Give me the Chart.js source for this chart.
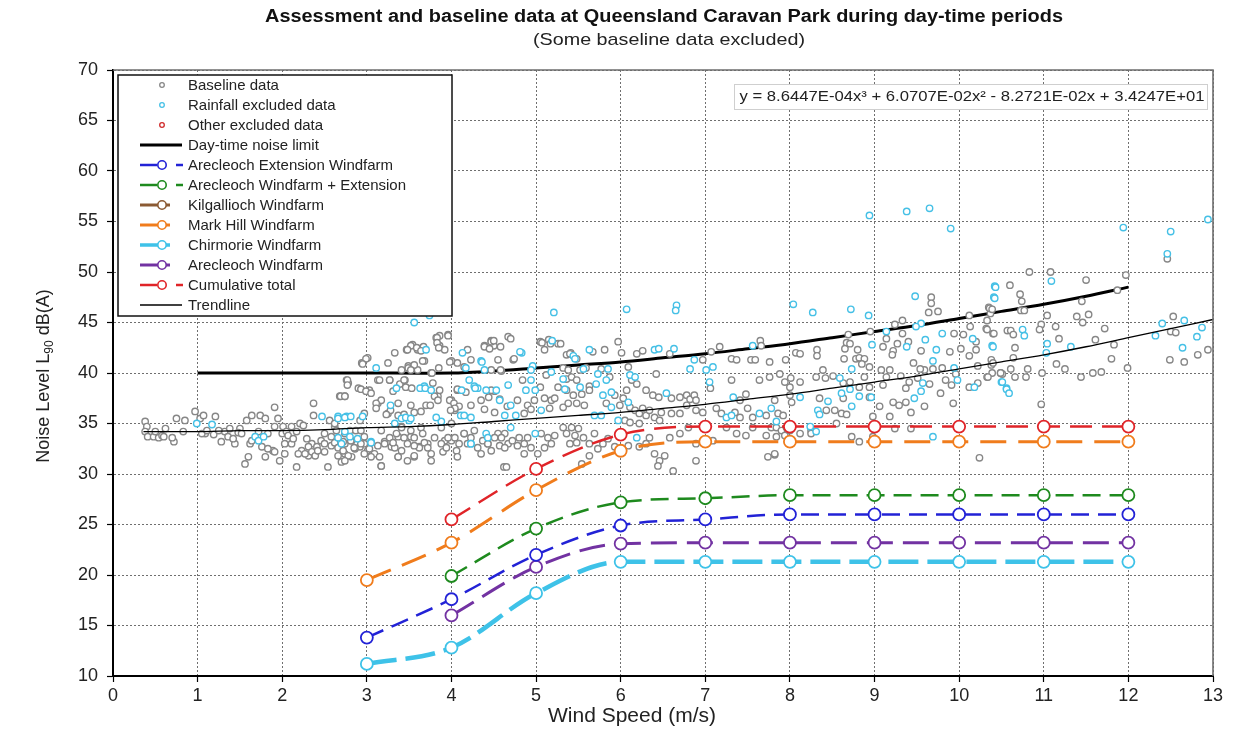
<!DOCTYPE html>
<html>
<head>
<meta charset="utf-8">
<script src="https://cdn.jsdelivr.net/npm/chart.js@4.4.0/dist/chart.umd.min.js"></script>
<style>
  html, body { margin: 0; padding: 0; background: #ffffff; }
  canvas { display: block; }
</style>
</head>
<body>
<canvas id="noiseChart" width="1250" height="732"></canvas>
<script>
// ---- Text ----
const chartTitle = 'Assessment and baseline data at Queensland Caravan Park during day-time periods';
const chartSubtitle = '(Some baseline data excluded)';
const xAxisTitle = 'Wind Speed (m/s)';
const yAxisTitleParts = ['Noise Level L', '90', ' dB(A)'];
const equationText = 'y = 8.6447E-04x\u00B3 + 6.0707E-02x\u00B2 - 8.2721E-02x + 3.4247E+01';

// ---- Axis ranges ----
const windSpeedTicks = { min: 0, max: 13, step: 1 };
const noiseLevelTicks = { min: 10, max: 70, step: 5 };

// ---- Predicted wind farm levels at each integer wind speed (m/s) ----
const windSpeeds = [3, 4, 5, 6, 7, 8, 9, 10, 11, 12];
const arecleochExtension     = [13.8, 17.6, 22.0, 24.9, 25.5, 26.0, 26.0, 26.0, 26.0, 26.0];
const arecleochPlusExtension = [null, 19.9, 24.6, 27.2, 27.6, 27.9, 27.9, 27.9, 27.9, 27.9];
const kilgallioch            = [null, null, null, null, null, null, null, null, null, null];
const markHill               = [19.5, 23.2, 28.4, 32.3, 33.2, 33.2, 33.2, 33.2, 33.2, 33.2];
const chirmorie              = [11.2, 12.8, 18.2, 21.3, 21.3, 21.3, 21.3, 21.3, 21.3, 21.3];
const arecleoch              = [null, 16.0, 20.8, 23.1, 23.2, 23.2, 23.2, 23.2, 23.2, 23.2];
const cumulativeTotal        = [null, 25.5, 30.5, 33.9, 34.7, 34.7, 34.7, 34.7, 34.7, 34.7];

// ---- Day-time limit and fitted trendline [wind speed, dB] ----
const noiseLimit = [[1,40.0],[2,40.0],[3,40.0],[4,40.0],[4.5,40.2],[5,40.5],[5.5,40.8],[6,41.1],[6.5,41.5],[7,41.9],[7.5,42.4],[8,42.9],[8.5,43.5],[9,44.1],[9.5,44.7],[10,45.4],[10.5,46.1],[11,46.8],[11.5,47.6],[12,48.5]];
const trendline = [[0.36,34.2],[1,34.2],[1.5,34.3],[2,34.3],[2.5,34.4],[3,34.6],[3.5,34.7],[4,34.9],[4.5,35.2],[5,35.5],[5.5,35.8],[6,36.1],[6.5,36.5],[7,36.9],[7.5,37.4],[8,37.9],[8.5,38.5],[9,39.1],[9.5,39.7],[10,40.4],[10.5,41.1],[11,41.8],[11.5,42.6],[12,43.5],[12.5,44.4],[13,45.3]];

// ---- Measured background levels [wind speed, dB] ----
const baselineData = [
  [0.38,35.2],[0.40,34.7],[0.38,34.2],[0.41,33.7],[0.48,33.7],[0.54,33.6],[0.58,33.8],[0.62,34.5],[0.60,33.7],[0.72,33.2],[0.70,33.6],[0.75,35.5],[0.83,34.2],[0.85,35.3],[0.97,36.2],[1.03,35.5],[1.07,35.8],[1.09,34.0],[1.21,35.7],[1.19,33.9],[1.28,33.2],[1.32,34.2],[1.36,33.7],[1.44,33.0],[1.42,33.5],[1.50,34.5],[1.48,34.1],[1.58,35.3],[1.60,31.7],[1.56,31.0],[1.62,33.0],[1.64,35.8],[1.74,35.8],[1.80,35.5],[1.83,34.0],[1.89,32.3],[1.91,36.6],[1.91,32.2],[1.95,35.5],[1.97,31.3],
  [0.50,34.2],[1.05,34.0],[1.11,34.3],[1.25,34.3],[1.38,34.5],[1.52,34.0],[1.64,33.3],[1.76,32.7],[1.83,32.5],[1.72,34.2],[1.91,34.7],[2.00,34.0],[2.11,34.7],[2.17,34.2],[2.23,32.3],[2.31,31.8],[2.35,33.0],[2.41,32.7],[2.50,34.0],[2.58,33.7],[2.50,32.2],[2.66,31.8],[2.74,32.0],[2.74,33.0],[2.82,33.3],[2.92,32.7],[2.97,33.7],[2.11,33.0],[2.29,33.5],[1.80,31.7],[2.03,32.0],
  [2.01,34.7],[2.03,33.0],[2.05,34.2],[2.07,33.8],[2.13,33.5],[2.17,30.7],[2.19,32.0],[2.21,35.0],[2.25,34.8],[2.27,32.0],[2.31,32.7],[2.35,32.2],[2.37,37.0],[2.37,35.8],[2.39,31.8],[2.42,32.3],[2.46,33.3],[2.50,33.0],[2.54,30.7],[2.56,35.3],[2.58,32.8],[2.62,34.7],[2.68,37.7],[2.70,31.2],[2.72,33.2],[2.74,37.7],[2.76,39.3],[2.78,39.0],[2.82,31.7],[2.86,32.5],[2.90,38.5],[2.92,35.3],[2.94,41.0],[2.97,36.0],[2.97,33.0],
  [3.01,32.3],[3.01,41.5],[3.03,38.3],[3.07,32.0],[3.13,37.0],[3.13,39.3],[3.17,30.8],[3.21,33.2],[3.25,36.0],[3.27,39.3],[3.29,32.7],[3.31,38.2],[3.37,33.7],[3.37,31.7],[3.41,34.7],[3.45,39.3],[3.47,42.3],[3.49,40.7],[3.52,33.7],[3.54,42.8],[3.56,31.7],[3.60,42.3],[3.62,32.7],[3.66,42.5],[3.68,41.2],[3.72,33.0],[3.76,40.0],[3.78,39.0],[3.82,43.5],[3.84,37.7],[3.86,43.7],[3.86,42.7],[3.92,33.3],[3.96,43.8],
  [3.25,41.0],[3.41,40.3],[3.33,42.0],[3.60,40.3],[3.92,42.3],[4.07,41.0],[4.23,41.3],[4.50,42.7],[4.55,41.3],[4.47,40.3],
  [4.78,37.3],[4.90,36.8],[4.98,37.3],[4.35,37.3],[4.23,36.8],[3.17,37.3],[3.37,37.0],[3.52,36.8],
  [4.67,43.6],[5.05,43.1],[5.15,43.3],[5.17,42.9],[5.26,42.9],[5.36,41.8],[5.41,42.0],[5.48,41.4],[4.73,41.3],
  [4.00,41.2],[4.00,37.3],[4.04,36.3],[4.07,38.3],[4.15,34.0],[4.19,42.3],[4.39,42.7],[4.43,33.0],[4.47,43.2],[4.51,38.2],[4.55,34.0],[4.59,40.2],[4.62,30.7],[4.66,36.7],
  [3.96,43.7],[3.83,43.5],[3.83,43.0],[3.85,42.5],[3.52,42.7],[3.48,42.3],[3.59,42.5],[3.67,42.6],[3.64,42.2],[3.66,41.2],[2.99,41.4],[2.95,40.9],[3.49,40.5],[3.56,40.8],[3.52,40.3],[3.85,40.5],[3.77,40.0],[3.98,41.1],[4.15,40.6],[4.39,42.6],[4.45,42.4],[4.47,43.1],[4.50,43.2],[4.58,42.6],[4.70,43.4],[4.74,41.4],[4.58,40.3],[5.07,43.0],[5.10,42.3],[5.29,42.9],[5.12,39.8],
  [2.77,39.3],[2.77,38.8],[2.69,37.7],[2.74,37.7],[2.93,38.4],[2.99,38.2],[3.05,38.0],[3.15,39.3],[3.27,39.3],[3.39,38.9],[3.44,39.3],[3.46,38.6],[3.53,38.5],[3.80,37.7],[3.86,38.3],[3.84,37.3],[3.11,37.0],[3.11,36.5],[3.28,36.3],[3.23,35.9],[3.37,35.8],[3.44,35.9],[3.56,36.1],[3.64,36.2],[3.70,36.8],[3.75,36.8],[3.98,37.3],[4.03,37.0],[4.09,36.7],[4.04,36.5],[3.99,36.3],[4.07,38.4],[4.17,38.1],[4.47,38.3],[4.44,37.6],[4.57,37.4],[4.84,39.3],[5.05,38.6],[5.10,37.5],[5.18,37.3],[5.22,37.5],[5.26,38.6],[4.39,36.4],[4.51,36.1],[4.86,36.0],[4.94,36.4],[5.16,36.5],
  [2.62,35.0],[2.64,34.3],[2.74,34.0],[2.80,34.3],[2.87,34.3],[2.62,33.1],[2.66,32.6],[2.72,32.3],[2.78,31.8],[2.74,31.3],[2.85,32.6],[2.93,33.0],[2.97,32.0],[3.03,32.5],[3.09,32.0],[3.15,31.7],[3.17,30.8],[3.05,31.7],[3.21,33.0],[3.27,33.6],[3.33,32.6],[3.37,31.7],[3.41,32.3],[3.48,33.0],[3.56,33.6],[3.56,31.8],[3.62,32.6],[3.68,33.1],[3.76,32.0],[3.80,33.6],[3.88,33.0],[3.90,32.2],[3.94,32.6],[4.00,33.3],[4.04,33.6],[4.09,33.0],[4.15,34.0],[4.19,33.0],[4.23,33.6],[4.31,32.6],[4.37,33.3],[4.43,33.0],[4.51,33.6],[4.57,32.8],[4.63,34.0],[4.67,33.0],[4.72,33.3],[4.78,32.8],[4.86,33.0],[4.94,32.6],[5.02,32.0],[5.06,34.0],[5.14,33.6],[5.18,33.0],[5.22,33.8],[4.65,30.7],[4.86,32.0],[3.17,34.3],[3.41,34.6],[3.52,34.3],[3.64,34.6],[3.88,34.6],[4.00,35.0],
  [2.81,33.3],[3.13,32.8],[3.31,33.1],[3.44,33.6],[3.66,34.0],[3.72,32.6],[3.96,33.6],[4.06,32.3],[4.27,34.3],[4.47,32.3],[4.59,33.6],[4.80,33.6],[4.90,33.6],[5.10,32.6],[4.63,32.6],[3.56,32.8],[3.35,34.0],[2.93,34.3],[4.35,32.0],[4.07,31.7],[3.76,31.3],[3.48,31.3],
  [5.40,41.9],[5.67,42.1],[5.81,42.3],[5.97,43.1],[6.01,42.0],[6.19,41.9],[6.26,42.2],[6.58,41.9],[6.97,41.3],[7.07,42.1],[7.17,42.6],[7.31,41.4],[7.37,41.3],[7.65,43.2],[7.66,42.7],[7.54,41.3],[7.59,41.3],[7.76,41.1],[7.88,39.9],[5.32,40.5],[5.38,40.3],[5.52,40.3],[5.59,40.5],[5.77,40.4],[6.09,40.6],[6.42,39.9],
  [5.36,39.4],[5.42,39.6],[5.48,39.3],[5.63,38.7],[5.87,39.6],[6.13,39.3],[6.19,38.9],[5.36,38.3],[5.44,37.8],[5.54,37.9],[5.63,38.3],[5.93,37.8],[6.07,38.3],[6.30,38.3],[6.38,37.8],[6.45,37.6],[6.60,37.5],[6.70,37.6],[6.78,37.8],[6.82,37.4],[6.87,37.8],[6.89,37.3],[7.06,38.5],[7.31,39.3],[7.41,37.3],[7.48,37.9],[7.64,39.3],[7.76,39.6],[7.82,37.3],
  [5.32,36.6],[5.38,37.0],[5.48,37.0],[5.57,36.8],[5.83,37.0],[5.99,36.8],[6.03,37.5],[6.11,36.6],[6.17,36.3],[6.22,36.0],[6.26,36.5],[6.30,35.8],[6.34,36.3],[6.40,35.6],[6.48,36.1],[6.60,36.0],[6.70,36.0],[6.78,36.8],[6.89,36.3],[6.97,36.1],[7.13,36.5],[7.19,36.0],[7.35,36.1],[7.41,35.6],[7.50,36.5],[7.56,35.6],[7.72,35.8],[7.86,36.0],[6.05,35.3],[6.11,35.1],[6.22,35.0],[6.46,35.3],
  [5.32,34.6],[5.36,34.0],[5.42,34.6],[5.46,33.8],[5.50,34.5],[5.40,33.0],[5.48,33.1],[5.56,33.6],[5.63,33.0],[5.69,34.0],[5.73,32.5],[5.63,31.8],[5.54,31.0],[5.79,33.0],[5.85,33.5],[5.93,32.7],[6.09,32.8],[6.22,32.7],[6.30,33.0],[6.40,32.0],[6.46,31.3],[6.52,31.8],[6.44,30.8],[6.62,30.3],[6.34,33.6],[6.58,33.6],[6.70,34.0],[6.80,34.6],[6.89,33.0],[6.89,31.3],[7.25,34.6],[7.37,34.0],[7.48,33.8],[7.56,34.6],[7.72,33.8],[7.78,34.6],[7.74,31.7],[7.82,31.9],[7.09,33.3],
  [9.67,47.5],[9.67,46.9],[9.64,46.0],[9.75,46.1],[10.35,46.5],[10.37,45.9],
  [9.33,45.2],[9.24,44.8],[10.12,45.7],[10.13,44.6],[10.33,45.2],[10.32,44.4],[10.57,44.2],[8.69,43.8],[8.95,44.1],[9.14,43.4],[9.33,43.9],[9.94,43.9],[10.05,43.8],[10.20,43.1],[10.40,43.9],[9.10,42.6],[9.27,42.9],[9.40,43.1],[9.55,42.2],[9.89,42.1],[10.02,42.4],[10.20,42.3],[8.67,43.0],[8.65,42.4],[8.71,42.9],[8.80,42.3],[8.32,42.3],[8.32,41.7],[8.07,42.0],[8.12,41.9],[7.95,41.3],[8.64,41.4],[8.78,41.4],[8.82,41.5],[8.88,41.4],[8.85,40.9],[9.22,42.2],[9.21,41.8],[10.12,41.7],[9.46,41.0],[9.59,40.3],[9.69,40.4],[9.80,40.5],[9.54,40.4],[10.22,40.7],[10.38,41.3],[10.38,40.8],[10.49,40.0],[8.94,40.6],[9.08,40.3],[9.18,40.3],[8.39,40.3],
  [8.01,39.5],[7.94,39.1],[8.12,39.1],[8.31,39.6],[8.42,39.5],[8.51,39.7],[8.63,39.0],[8.71,39.1],[8.88,39.6],[8.94,38.6],[8.82,38.6],[9.14,39.6],[9.10,38.8],[9.31,39.7],[9.37,38.5],[9.41,39.1],[9.51,39.5],[9.65,38.9],[9.78,38.0],[9.84,39.3],[9.91,38.8],[9.96,39.9],[10.12,38.6],[10.22,39.0],[10.33,39.6],[10.51,39.9],
  [8.35,37.5],[8.63,37.5],[8.94,37.6],[9.06,36.7],[9.22,37.1],[9.29,36.8],[9.37,37.1],[9.43,36.1],[9.59,36.7],[9.93,37.0],[8.00,38.6],[8.00,37.8],[8.02,37.1],[8.43,36.3],[8.53,36.3],[8.61,36.0],[8.67,35.9],[8.98,35.7],[9.18,35.7],[9.24,34.5],[7.92,35.8],
  [7.84,34.6],[7.90,34.3],[7.94,33.8],[7.84,33.7],[7.96,34.6],[8.00,34.3],[8.12,34.0],[8.25,34.3],[8.25,34.0],[8.55,35.0],[8.73,33.7],[8.82,33.2],[8.98,33.7],[9.43,34.5],[10.24,31.6],[7.82,32.0],
  [12.46,51.3],[10.83,50.0],[11.08,50.0],[11.50,49.2],[11.97,49.7],[11.87,48.2],[10.60,48.7],[10.72,47.8],[10.74,47.1],[10.36,46.4],[10.39,46.3],[10.73,46.2],[10.77,46.2],[11.04,45.7],[11.45,47.1],[11.39,45.6],[11.53,45.8],[11.46,45.0],[10.97,44.8],[10.95,44.3],[11.14,44.6],[11.18,43.4],[10.61,44.2],[10.64,43.8],[10.33,44.3],[10.41,43.9],[10.66,42.5],[10.64,41.5],[10.40,41.0],[10.39,40.0],[10.49,40.0],[10.61,40.4],[10.66,39.6],[10.79,39.6],[10.81,40.4],[10.34,39.6],[10.98,40.0],[10.97,36.9],[11.15,40.9],[11.25,40.4],[11.44,39.6],[11.58,40.0],[11.68,40.1],[11.80,41.4],[11.83,42.8],[11.61,43.3],[11.72,44.4],[11.99,40.5],[12.53,45.6],[12.50,44.1],[12.56,44.0],[12.49,41.3],[12.66,41.1],[12.82,41.8],[12.94,42.3]
];

// ---- Periods excluded because of rainfall [wind speed, dB] ----
const rainfallExcludedData = [
  [0.99,35.0],[1.17,34.9],[1.68,33.7],[1.72,33.3],[1.78,33.7],[2.47,35.7],[2.66,35.7],[2.76,35.7],[2.74,34.2],[2.80,33.7],[3.05,33.2],[3.11,40.5],[3.33,35.0],[3.35,38.5],[3.50,35.3],[3.56,45.0],[3.70,42.3],[3.68,38.7],[3.74,45.7],[3.88,35.2],[4.11,35.8],[4.13,42.0],[4.21,39.3],[4.23,33.0],[4.27,38.7],[4.31,38.5],[4.35,41.2],[4.57,37.3],
  [5.21,46.0],[4.17,40.5],[4.83,42.0],[4.36,41.1],[4.39,40.3],[4.96,40.7],[4.94,40.3],[5.19,43.2],[5.18,40.1],[4.81,42.1],
  [3.63,38.5],[3.69,38.5],[3.76,38.3],[3.28,36.8],[4.12,38.3],[4.28,38.5],[4.41,38.3],[4.53,38.3],[4.67,38.8],[4.70,36.8],[4.88,38.3],[4.94,39.3],[4.99,38.3],[4.63,35.8],[4.76,35.8],[5.06,36.3],
  [2.66,35.5],[2.74,35.6],[2.81,35.7],[2.95,35.7],[2.66,33.6],[2.70,33.0],[2.89,33.5],[3.05,33.1],[3.41,35.5],[3.46,35.6],[3.52,35.5],[3.82,35.6],[4.15,35.8],[4.23,35.6],[4.41,34.0],[4.43,33.6],[4.23,33.0],[4.70,34.6],[4.99,34.0],
  [6.07,46.3],[6.66,46.7],[6.65,46.2],[5.44,41.7],[5.46,41.4],[5.63,42.3],[6.40,42.3],[6.45,42.4],[6.63,42.4],[6.87,41.3],[6.82,40.4],[7.09,40.6],[7.56,42.7],[5.56,40.4],[5.85,40.4],[5.32,39.4],[5.52,38.6],[5.71,38.9],[5.83,39.3],[5.73,39.9],[6.11,39.8],[6.17,39.6],[5.34,38.4],[5.79,37.8],[5.89,38.1],[6.54,38.0],[7.01,40.3],[7.05,39.1],[7.33,37.6],[7.78,36.5],[5.69,35.8],[5.77,35.8],[5.89,36.6],[6.09,37.1],[7.25,35.6],[7.31,35.8],[7.64,36.0],[5.97,35.3],[6.19,33.6],
  [8.04,46.8],[8.27,46.0],[8.72,46.3],[8.93,45.7],[9.48,47.6],[10.42,48.6],[10.41,47.5],[9.55,44.9],[9.49,44.6],[9.14,44.1],[9.80,43.9],[10.16,43.4],[9.60,43.3],[8.97,42.8],[9.38,42.6],[9.73,42.3],[10.39,42.7],[9.69,41.2],[9.94,40.5],[8.73,40.4],[8.59,39.5],[8.96,37.6],[8.71,38.4],[8.61,38.0],[9.57,39.0],[9.55,38.2],[9.98,39.3],[10.18,38.6],[10.50,39.1],[10.56,38.5],[8.45,37.2],[8.73,36.7],[8.82,37.7],[9.47,37.5],[8.12,37.6],[8.33,36.3],[8.35,35.9],[7.84,35.2],[8.24,34.7],[8.31,34.2],[9.69,33.7],
  [8.94,55.6],[9.38,56.0],[9.65,56.3],[9.90,54.3],
  [11.94,54.4],[12.50,54.0],[12.46,51.8],[12.94,55.2],[11.09,49.1],[10.43,48.5],[10.42,47.4],[10.75,44.3],[10.77,43.7],[10.40,42.6],[10.51,39.1],[10.56,38.4],[10.59,38.0],[11.04,42.9],[11.03,42.0],[11.32,42.6],[12.40,44.9],[12.66,45.2],[12.32,43.7],[12.87,44.5],[12.81,43.6],[12.64,42.5]
];

// ---- Periods excluded for other reasons ----
const otherExcludedData = [];

// ---- Helpers ----
const FONT = '"Liberation Sans", Arial, Helvetica, sans-serif';
const toPoints = pairs => pairs.map(([x, y]) => ({ x, y }));
const farmPoints = values => windSpeeds
  .map((x, i) => ({ x, y: values[i] }))
  .filter(p => p.y !== null && p.y !== undefined);

function scatterSet(label, pairs, color, order) {
  return {
    label, data: toPoints(pairs), legendKind: 'point', order,
    showLine: false, pointRadius: 3.2, pointHoverRadius: 3.2,
    pointBorderWidth: 1.4, pointBorderColor: color, pointBackgroundColor: '#ffffff',
    borderColor: color, backgroundColor: '#ffffff'
  };
}

function farmSet(label, values, color, width, dash, order, legendKind) {
  return {
    label, data: farmPoints(values), legendKind, order,
    showLine: true, borderColor: color, borderWidth: width, borderDash: dash,
    cubicInterpolationMode: 'monotone', fill: false,
    pointRadius: 6, pointHoverRadius: 6, pointBorderWidth: 1.8,
    pointBorderColor: color, pointBackgroundColor: '#ffffff'
  };
}

function lineSet(label, pairs, color, width, order) {
  return {
    label, data: toPoints(pairs), legendKind: 'line', order,
    showLine: true, borderColor: color, borderWidth: width, tension: 0.3,
    pointRadius: 0, pointHoverRadius: 0, fill: false
  };
}

const datasets = [
  scatterSet('Baseline data', baselineData, '#878787', 20),
  scatterSet('Rainfall excluded data', rainfallExcludedData, '#45c0e6', 19),
  scatterSet('Other excluded data', otherExcludedData, '#d02a2a', 18),
  lineSet('Day-time noise limit', noiseLimit, '#000000', 3, 25),
  farmSet('Arecleoch Extension Windfarm', arecleochExtension, '#2222d6', 2.5, [18, 9], 5, 'dashMarker'),
  farmSet('Arecleoch Windfarm + Extension', arecleochPlusExtension, '#1e8a1e', 2.5, [18, 9], 4, 'dashMarker'),
  farmSet('Kilgallioch Windfarm', kilgallioch, '#8b5a33', 3, [26, 10], 6, 'solidMarker'),
  farmSet('Mark Hill Windfarm', markHill, '#f07c1c', 3, [26, 12], 3, 'solidMarker'),
  farmSet('Chirmorie Windfarm', chirmorie, '#3ec2e8', 4.5, [30, 9], 7, 'solidMarker'),
  farmSet('Arecleoch Windfarm', arecleoch, '#7232a2', 3, [26, 10], 6, 'solidMarker'),
  farmSet('Cumulative total', cumulativeTotal, '#e02428', 2.5, [22, 10], 2, 'dashMarker'),
  lineSet('Trendline', trendline, '#000000', 1.3, 15)
];

// ---- Drawing helpers for decorations ----
function fittedText(ctx, text, cx, cy, font, width, color) {
  ctx.save();
  ctx.font = font;
  ctx.fillStyle = color;
  ctx.textAlign = 'center';
  ctx.textBaseline = 'middle';
  const w = ctx.measureText(text).width;
  ctx.translate(cx, cy);
  ctx.scale(width / w, 1);
  ctx.fillText(text, 0, 0);
  ctx.restore();
}

function drawYTitle(ctx, cx, cy) {
  ctx.save();
  ctx.translate(cx, cy);
  ctx.rotate(-Math.PI / 2);
  ctx.fillStyle = '#222';
  ctx.textBaseline = 'alphabetic';
  ctx.textAlign = 'left';
  const mainFont = '18px ' + FONT, subFont = '12px ' + FONT;
  ctx.font = mainFont; const w1 = ctx.measureText(yAxisTitleParts[0]).width;
  const w3 = ctx.measureText(yAxisTitleParts[2]).width;
  ctx.font = subFont; const w2 = ctx.measureText(yAxisTitleParts[1]).width;
  let x = -(w1 + w2 + w3) / 2;
  const base = 6;
  ctx.font = mainFont; ctx.fillText(yAxisTitleParts[0], x, base); x += w1;
  ctx.font = subFont; ctx.fillText(yAxisTitleParts[1], x, base + 4); x += w2;
  ctx.font = mainFont; ctx.fillText(yAxisTitleParts[2], x, base);
  ctx.restore();
}

function drawLegend(chart) {
  const ctx = chart.ctx;
  const box = { x: 118, y: 75, w: 334, h: 241 };
  ctx.save();
  ctx.fillStyle = '#ffffff';
  ctx.fillRect(box.x, box.y, box.w, box.h);
  ctx.strokeStyle = '#111';
  ctx.lineWidth = 1.5;
  ctx.strokeRect(box.x, box.y, box.w, box.h);
  ctx.font = '15px ' + FONT;
  ctx.textBaseline = 'middle';
  ctx.textAlign = 'left';
  const rowTop = 85, rowStep = 20, textX = 188, markX = 162;
  chart.data.datasets.forEach((ds, i) => {
    const y = rowTop + i * rowStep;
    const col = ds.borderColor;
    ctx.setLineDash([]);
    if (ds.legendKind === 'point') {
      ctx.beginPath();
      ctx.arc(markX, y, 2.3, 0, Math.PI * 2);
      ctx.fillStyle = '#fff'; ctx.fill();
      ctx.strokeStyle = ds.pointBorderColor; ctx.lineWidth = 1.3; ctx.stroke();
    } else if (ds.legendKind === 'line') {
      ctx.beginPath();
      ctx.moveTo(140, y); ctx.lineTo(182, y);
      ctx.strokeStyle = col; ctx.lineWidth = ds.borderWidth; ctx.stroke();
    } else {
      ctx.strokeStyle = col; ctx.lineWidth = Math.min(ds.borderWidth, 3.5);
      ctx.beginPath();
      if (ds.legendKind === 'dashMarker') {
        ctx.moveTo(140, y); ctx.lineTo(157, y);
        ctx.moveTo(176, y); ctx.lineTo(183, y);
      } else {
        ctx.moveTo(140, y); ctx.lineTo(170, y);
      }
      ctx.stroke();
      ctx.beginPath();
      ctx.arc(markX, y, 4.2, 0, Math.PI * 2);
      ctx.fillStyle = '#fff'; ctx.fill();
      ctx.lineWidth = 1.6; ctx.stroke();
    }
    ctx.fillStyle = '#222';
    ctx.fillText(ds.label, textX, y + 0.5);
  });
  ctx.restore();
}

const decorations = {
  id: 'decorations',
  afterDraw(chart) {
    const ctx = chart.ctx;
    const a = chart.chartArea;
    // top and right frame of the plot area
    ctx.save();
    ctx.strokeStyle = '#6e6e6e';
    ctx.lineWidth = 1.6;
    ctx.beginPath();
    ctx.moveTo(a.left, a.top); ctx.lineTo(a.right, a.top); ctx.lineTo(a.right, a.bottom);
    ctx.stroke();
    ctx.restore();

    // headings
    fittedText(ctx, chartTitle, 664, 17, 'bold 18px ' + FONT, 798, '#111');
    fittedText(ctx, chartSubtitle, 669, 40, '17px ' + FONT, 272, '#222');
    fittedText(ctx, xAxisTitle, 632, 716, '20px ' + FONT, 168, '#222');
    drawYTitle(ctx, 43, 376);

    // trendline equation
    ctx.save();
    ctx.fillStyle = '#ffffff';
    ctx.fillRect(734, 84, 473, 25);
    ctx.strokeStyle = '#cfcfcf';
    ctx.lineWidth = 1;
    ctx.strokeRect(734.5, 84.5, 473, 25);
    ctx.restore();
    fittedText(ctx, equationText, 972, 97, '15px ' + FONT, 465, '#222');

    drawLegend(chart);
  }
};

const axisFont = { family: FONT, size: 18 };

new Chart(document.getElementById('noiseChart'), {
  type: 'scatter',
  data: { datasets },
  plugins: [decorations],
  options: {
    responsive: false,
    animation: false,
    devicePixelRatio: 1,
    events: [],
    layout: { padding: { top: 70, right: 37, left: 0, bottom: 0 } },
    plugins: { legend: { display: false }, tooltip: { enabled: false }, title: { display: false } },
    scales: {
      x: {
        type: 'linear',
        min: windSpeedTicks.min, max: windSpeedTicks.max,
        ticks: { stepSize: windSpeedTicks.step, font: axisFont, color: '#222', padding: 3, maxRotation: 0, autoSkip: false },
        grid: { color: '#6f6f6f', lineWidth: 1, tickColor: '#000', tickLength: 6, tickWidth: 1.2 },
        border: { color: '#000', width: 2, dash: [2, 2] },
        afterFit(scale) { scale.height = 56; }
      },
      y: {
        type: 'linear',
        min: noiseLevelTicks.min, max: noiseLevelTicks.max,
        ticks: { stepSize: noiseLevelTicks.step, font: axisFont, color: '#222', padding: 9 },
        grid: { color: '#6f6f6f', lineWidth: 1, tickColor: '#000', tickLength: 6, tickWidth: 1.2 },
        border: { color: '#000', width: 2, dash: [2, 2] },
        afterFit(scale) { scale.width = 113; }
      }
    }
  }
});
</script>
</body>
</html>
